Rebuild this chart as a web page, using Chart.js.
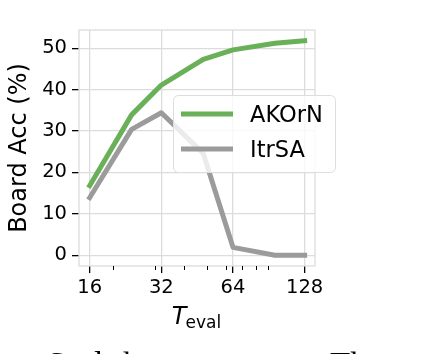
<!DOCTYPE html>
<html><head><meta charset="utf-8">
<script src="https://cdn.jsdelivr.net/npm/chart.js@4.4.0/dist/chart.umd.min.js"></script>
<style>
html,body{margin:0;padding:0;width:436px;height:354px;overflow:hidden;background:#fff;}
#wrap{position:relative;width:436px;height:354px;overflow:hidden;}
canvas{position:absolute;left:0;top:0;}
.cap{position:absolute;font-family:"Liberation Serif",serif;font-size:33px;line-height:33px;color:#000;white-space:nowrap;top:348px;}
</style></head><body>
<div id="wrap"><canvas id="c" width="436" height="354"></canvas>
<div class="cap" style="left:47px;letter-spacing:2px">Sudoku</div>
<div class="cap" style="left:330px">The</div>
</div>
<script>
const tEval = [16, 24, 32, 48, 64, 96, 128];
const akornAcc = [16.8, 33.9, 41.1, 47.3, 49.6, 51.2, 51.8];
const itrsaAcc = [13.9, 30.4, 34.4, 24.6, 1.9, 0.0, 0.0];
const xMajorTicks = [16, 32, 64, 128];
const xMinorTicks = [20, 30, 40, 50, 60, 70, 80, 90];
const yTicks = [0, 10, 20, 30, 40, 50];
const seriesNames = ['AKOrN', 'ItrSA'];
const seriesColors = ['rgb(106,176,88)', 'rgb(155,155,155)'];

const gridColor = '#dcdcdc';
const FONT = '"DejaVu Sans", sans-serif';

const extras = {
  id: 'extras',
  beforeDatasetsDraw(chart) {
    const {ctx, chartArea: a} = chart;
    ctx.save();
    ctx.strokeStyle = gridColor;
    ctx.lineWidth = 1.3;
    ctx.strokeRect(a.left, a.top, a.right - a.left, a.bottom - a.top);
    ctx.restore();
  },
  afterDraw(chart) {
    const {ctx, chartArea: a} = chart;
    const xs = chart.scales.x;
    ctx.save();
    // minor ticks
    ctx.strokeStyle = '#000';
    ctx.lineWidth = 1;
    xMinorTicks.forEach(v => {
      const px = Math.round(xs.getPixelForValue(v)) + 0.5;
      ctx.beginPath();
      ctx.moveTo(px, a.bottom);
      ctx.lineTo(px, a.bottom + 4);
      ctx.stroke();
    });
    // x title T_eval
    ctx.fillStyle = '#000';
    ctx.textBaseline = 'alphabetic';
    ctx.font = 'italic 24px ' + FONT;
    const w1 = ctx.measureText('T').width;
    ctx.font = '17px ' + FONT;
    const w2 = ctx.measureText('eval').width;
    const cx = (a.left + a.right) / 2;
    const sx = cx - (w1 + w2) / 2;
    ctx.font = 'italic 24px ' + FONT;
    ctx.fillText('T', sx, 324);
    ctx.font = '17px ' + FONT;
    ctx.fillText('eval', sx + w1 - 1, 328);
    // legend
    const bx = 173, by = 95, bw = 162, bh = 77;
    ctx.beginPath();
    if (ctx.roundRect) ctx.roundRect(bx + 0.5, by + 0.5, bw, bh, 5); else ctx.rect(bx + 0.5, by + 0.5, bw, bh);
    ctx.fillStyle = 'rgba(255,255,255,0.8)';
    ctx.fill();
    ctx.strokeStyle = '#dddddd';
    ctx.lineWidth = 1;
    ctx.stroke();
    chart.data.datasets.forEach((ds, i) => {
      const y = 114 + i * 35;
      ctx.strokeStyle = ds.borderColor;
      ctx.lineWidth = 5;
      ctx.lineCap = 'butt';
      ctx.beginPath();
      ctx.moveTo(181, y);
      ctx.lineTo(233, y);
      ctx.stroke();
      ctx.fillStyle = '#000';
      ctx.font = '22.5px ' + FONT;
      ctx.textBaseline = 'alphabetic';
      ctx.fillText(ds.label, 250, y + 8);
    });
    ctx.restore();
  }
};

const mk = (ys) => tEval.map((x, i) => ({x: x, y: ys[i]}));

new Chart(document.getElementById('c'), {
  type: 'line',
  data: {
    datasets: [
      {label: seriesNames[0], data: mk(akornAcc), borderColor: seriesColors[0], borderWidth: 5, pointRadius: 0, tension: 0, borderJoinStyle: 'round', borderCapStyle: 'square'},
      {label: seriesNames[1], data: mk(itrsaAcc), borderColor: seriesColors[1], borderWidth: 5, pointRadius: 0, tension: 0, borderJoinStyle: 'round', borderCapStyle: 'square'}
    ]
  },
  options: {
    responsive: false,
    animation: false,
    events: [],
    layout: {padding: {top: 30, right: 121, left: 0, bottom: 0}},
    plugins: {legend: {display: false}, tooltip: {enabled: false}},
    scales: {
      x: {
        type: 'logarithmic',
        bounds: 'data',
        min: 14.43,
        max: 141.5,
        afterBuildTicks: (s) => { s.ticks = xMajorTicks.map(v => ({value: v, major: false})); },
        afterFit: (s) => { s.height = 88; },
        ticks: {autoSkip: false, maxRotation: 0, color: '#000', font: {family: FONT, size: 19.5}, padding: 3, callback: (v) => String(v)},
        grid: {color: gridColor, lineWidth: 1.3, tickColor: '#000', tickLength: 7, tickWidth: 1.3},
        border: {display: false}
      },
      y: {
        type: 'linear',
        min: -2.6,
        max: 54.4,
        afterBuildTicks: (s) => { s.ticks = yTicks.map(v => ({value: v})); },
        afterFit: (s) => { s.width = 79; },
        ticks: {color: '#000', font: {family: FONT, size: 19.5}, padding: 5},
        grid: {color: gridColor, lineWidth: 1.3, tickColor: '#000', tickLength: 7, tickWidth: 1.3},
        border: {display: false},
        title: {display: true, text: 'Board Acc (%)', color: '#000', font: {family: FONT, size: 24}, padding: {top: 5, bottom: 0}}
      }
    }
  },
  plugins: [extras]
});
</script>
</body></html>
